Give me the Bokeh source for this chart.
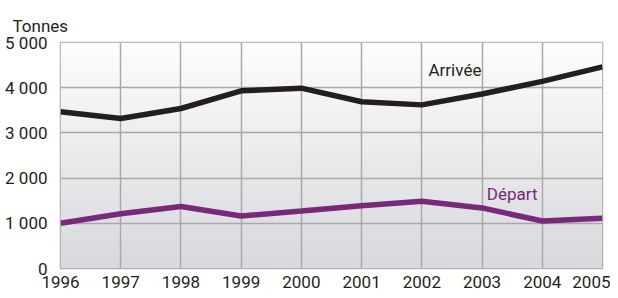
import numpy as np
from bokeh.plotting import figure
from bokeh.models import FixedTicker, Label
from bokeh.embed import file_html
from bokeh.resources import INLINE

years = [1996, 1997, 1998, 1999, 2000, 2001, 2002, 2003, 2004, 2005]
arrivee = [3470, 3320, 3540, 3930, 3990, 3690, 3620, 3860, 4140, 4460]
depart = [1000, 1210, 1370, 1160, 1270, 1390, 1490, 1340, 1050, 1110]
y_ticks = [0, 1000, 2000, 3000, 4000, 5000]
y_tick_labels = ["0", "1 000", "2 000", "3 000", "4 000", "5 000"]
unit_label = "Tonnes"
series_names = ["Arrivée", "Départ"]

FONT = "Roboto"
TXT = "#231f20"
PURPLE = "#772a78"
GRID = "#a8a8a8"

p = figure(width=610, height=290, output_backend="svg", toolbar_location=None,
           x_range=(1996, 2005), y_range=(0, 5000),
           min_border_left=60, min_border_right=8, min_border_top=42, min_border_bottom=0)

# background gradient
n = 100
top = np.array([253, 253, 253])
bot = np.array([216, 217, 221])
img = np.zeros((n, 1), dtype=np.uint32)
view = img.view(dtype=np.uint8).reshape((n, 1, 4))
for i in range(n):
    t = i / (n - 1)
    c = bot + (top - bot) * t
    view[i, 0, 0] = int(c[0]); view[i, 0, 1] = int(c[1]); view[i, 0, 2] = int(c[2]); view[i, 0, 3] = 255
p.image_rgba(image=[img], x=1996, y=0, dw=9, dh=5000, level="image")

p.line(years, arrivee, line_color=TXT, line_width=5.5)
p.line(years, depart, line_color=PURPLE, line_width=5.5)

p.add_layout(Label(x=2002.55, y=4400, text=series_names[0], text_align="center", text_baseline="middle",
                   text_font=FONT, text_font_size="17px", text_color=TXT))
p.add_layout(Label(x=2003.5, y=1640, text=series_names[1], text_align="center", text_baseline="middle",
                   text_font=FONT, text_font_size="17px", text_color=PURPLE))

p.title.text = unit_label
p.title.align = "left"
p.title.offset = -48
p.title.standoff = 14
p.title.text_font = FONT
p.title.text_font_size = "17px"
p.title.text_font_style = "normal"
p.title.text_color = TXT

p.xaxis.ticker = FixedTicker(ticks=years)
p.yaxis.ticker = FixedTicker(ticks=y_ticks)
p.yaxis.major_label_overrides = {t: l for t, l in zip(y_ticks, y_tick_labels)}
for ax in (p.xaxis, p.yaxis):
    ax.axis_line_color = None
    ax.major_tick_line_color = None
    ax.minor_tick_line_color = None
    ax.major_label_text_font = FONT
    ax.major_label_text_font_size = "17px"
    ax.major_label_text_color = TXT
p.xaxis.major_label_standoff = 1
p.yaxis.major_label_standoff = 7

p.xgrid.ticker = FixedTicker(ticks=years)
p.ygrid.ticker = FixedTicker(ticks=y_ticks)
p.grid.grid_line_color = GRID
p.grid.grid_line_width = 1.5
p.outline_line_color = GRID
p.outline_line_width = 1.5
p.background_fill_color = "#ffffff"
p.border_fill_color = "#ffffff"

open("out.html", "w").write(file_html(p, INLINE))
